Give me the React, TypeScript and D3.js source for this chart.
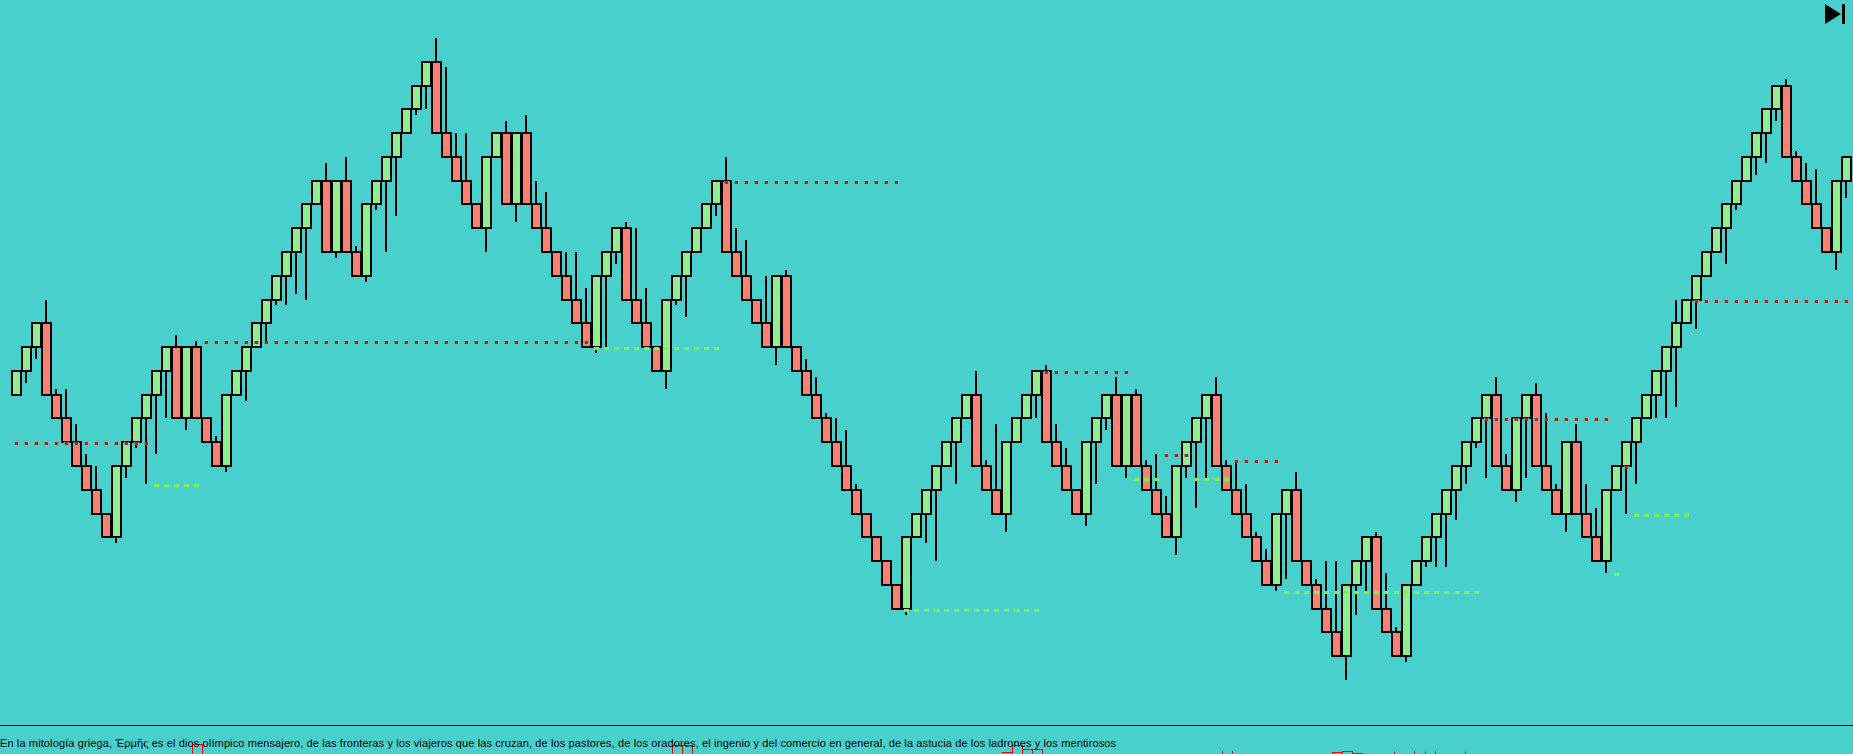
import React from "react";
import * as d3 from "d3";

const WIDTH = 1853;
const HEIGHT = 754;
const BRICK = 23.775;

// Renko-style bars: open and close in brick counts
const opens = [11,12,13,14,11,10,9,8,7,6,5,8,9,10,11,12,13,10,13,10,9,8,11,12,13,14,15,16,17,18,19,20,17,20,17,16,19,20,21,22,23,24,25,22,21,20,19,18,21,22,19,22,19,18,17,16,15,14,13,16,17,18,15,14,13,12,15,16,17,18,19,20,17,16,15,14,13,16,13,12,11,10,9,8,7,6,5,4,3,2,5,6,7,8,9,10,11,8,7,6,9,10,11,12,9,8,7,6,9,10,11,8,11,8,7,6,5,8,9,10,11,8,7,6,5,4,3,6,7,4,3,2,1,0,3,4,5,2,1,0,3,4,5,6,7,8,9,10,11,8,7,10,11,8,7,6,9,6,5,4,7,8,9,10,11,12,13,14,15,16,17,18,19,20,21,22,23,24,21,20,19,18,17,20];
const closes = [12,13,14,11,10,9,8,7,6,5,8,9,10,11,12,13,10,13,10,9,8,11,12,13,14,15,16,17,18,19,20,17,20,17,16,19,20,21,22,23,24,25,22,21,20,19,18,21,22,19,22,19,18,17,16,15,14,13,16,17,18,15,14,13,12,15,16,17,18,19,20,17,16,15,14,13,16,13,12,11,10,9,8,7,6,5,4,3,2,5,6,7,8,9,10,11,8,7,6,9,10,11,12,9,8,7,6,9,10,11,8,11,8,7,6,5,8,9,10,11,8,7,6,5,4,3,6,7,4,3,2,1,0,3,4,5,2,1,0,3,4,5,6,7,8,9,10,11,8,7,10,11,8,7,6,9,6,5,4,7,8,9,10,11,12,13,14,15,16,17,18,19,20,21,22,23,24,21,20,19,18,17,20,21];

// [bar index, price]
const upperWicks = [[3,357],[4,268],[5,268],[6,233],[7,203],[8,191],[16,322],[18,316],[20,221],[31,494],[33,500],[34,411],[42,619],[43,590],[44,524],[45,524],[49,536],[51,542],[52,476],[53,465],[55,405],[56,405],[57,369],[61,435],[62,429],[63,369],[71,500],[72,429],[73,417],[75,381],[77,387],[79,298],[80,280],[81,244],[82,239],[83,227],[84,173],[96,286],[97,197],[98,233],[103,292],[104,233],[105,209],[110,280],[112,268],[113,197],[114,203],[115,161],[120,280],[121,197],[122,195],[123,173],[124,125],[125,108],[128,185],[130,78],[131,96],[132,96],[136,125],[137,84],[138,30],[148,280],[149,203],[152,274],[153,244],[154,173],[156,233],[157,173],[158,149],[166,357],[177,578],[178,506],[179,494],[180,488]];
const lowerWicks = [[1,274],[2,298],[10,114],[11,179],[12,209],[13,173],[14,203],[15,239],[17,227],[21,185],[23,256],[25,316],[26,352],[27,352],[28,363],[29,357],[32,399],[35,375],[36,447],[37,405],[38,441],[40,542],[41,548],[47,405],[50,435],[58,304],[59,310],[60,393],[65,268],[66,352],[67,340],[70,441],[76,292],[89,42],[91,114],[92,96],[94,173],[99,125],[102,239],[107,131],[108,173],[109,227],[111,179],[116,102],[117,179],[118,149],[119,179],[126,66],[127,78],[133,-23],[134,42],[135,66],[139,-5],[141,90],[142,90],[143,90],[144,137],[145,173],[146,209],[147,179],[150,155],[151,179],[155,125],[159,84],[161,143],[162,173],[164,239],[165,239],[166,250],[168,328],[171,393],[172,447],[174,482],[175,494],[176,536],[182,387],[183,459]];

// [price, first bar, last bar]
const resistanceLevels = [[214,0,13],[315,19,57],[475,71,88],[285,103,111],[202,115,117],[196,122,126],[238,147,159],[356,168,183],[190,161,161]];
const supportLevels = [[172,14,18],[309,58,70],[47,89,102],[178,112,114],[178,118,121],[65,127,146],[83,160,160],[142,162,167]];

// Lower panel, clipped by the window: [bar index, value]
const panelBoxes = [[18,10],[66,9],[67,9],[99,2],[100,9],[101,5],[102,5],[132,2],[133,3],[134,1]];
const panelTicks = [120.6,121.6,137.8,139.8,140.9,141.85,144.9];
const panelTickValue = 3;

const caption = "En la mitología griega, Έρμῆς es el dios olímpico mensajero, de las fronteras y los viajeros que las cruzan, de los pastores, de los oradores, el ingenio y del comercio en general, de la astucia de los ladrones y los mentirosos";

const x = d3.scaleLinear().domain([0, 183]).range([16, 1846]);
const y = d3.scaleLinear().domain([0, 25 * BRICK]).range([656.675, 62.3]);
const panelY = d3.scaleLinear().domain([0, 10]).range([754, 744]);

const bodyY = (brick: number) => Math.floor(y(brick * BRICK));
const wickY = (price: number) => Math.round(y(price));

function Dots({ levels, core, left, right }: { levels: number[][]; core: string; left: string; right: string }) {
  return (
    <g shapeRendering="crispEdges">
      {levels.flatMap(([price, a, b]) =>
        d3.range(a, b + 1).map((i) => {
          const cx = x(i);
          const cy = wickY(price);
          return (
            <g key={`${price}-${i}`}>
              <rect x={cx - 2} y={cy - 1} width={1} height={3} fill={left} />
              <rect x={cx + 2} y={cy - 1} width={1} height={3} fill={right} />
              <rect x={cx - 1} y={cy - 1} width={3} height={3} fill={core} />
            </g>
          );
        })
      )}
    </g>
  );
}

export default function App() {
  return (
    <>
      <style>{`html,body{margin:0;padding:0;overflow:hidden}`}</style>
      <svg width={WIDTH} height={HEIGHT} style={{ display: "block" }}>
        <rect width={WIDTH} height={HEIGHT} fill="#48D1CC" />

        <g shapeRendering="crispEdges" stroke="#000" strokeWidth={2}>
          {upperWicks.map(([i, p]) => (
            <line key={`u${i}`} x1={x(i)} x2={x(i)} y1={wickY(p)} y2={bodyY(Math.max(opens[i], closes[i]))} />
          ))}
          {lowerWicks.map(([i, p]) => (
            <line key={`l${i}`} x1={x(i)} x2={x(i)} y1={bodyY(Math.min(opens[i], closes[i]))} y2={wickY(p)} />
          ))}
          {opens.map((o, i) => {
            const c = closes[i];
            const top = bodyY(Math.max(o, c));
            const bottom = bodyY(Math.min(o, c));
            return (
              <rect
                key={i}
                x={x(i) - 4}
                y={top}
                width={9}
                height={bottom - top}
                fill={c > o ? "#90EE90" : "#FA8072"}
              />
            );
          })}
        </g>

        <Dots levels={resistanceLevels} core="#B22222" left="#5FA98A" right="#8FB0B2" />
        <Dots levels={supportLevels} core="#7FFF00" left="#6FE58E" right="#8FEA9A" />

        <line x1={0} x2={WIDTH} y1={725.5} y2={725.5} stroke="#000" strokeWidth={1} shapeRendering="crispEdges" />

        <g shapeRendering="crispEdges" fill="none" stroke="#FF0000" strokeWidth={1}>
          {panelBoxes.map(([i, v]) => (
            <rect key={i} x={x(i) - 3.5} y={Math.round(panelY(v)) + 0.5} width={10} height={30} />
          ))}
          {panelTicks.map((t) => (
            <line key={t} x1={Math.round(x(t)) + 0.5} x2={Math.round(x(t)) + 0.5} y1={panelY(panelTickValue)} y2={HEIGHT} />
          ))}
        </g>

        <text
          x={0}
          y={747}
          fontFamily="'Liberation Sans', Arial, sans-serif"
          fontSize={11}
          fill="#000"
          textLength={1116}
          lengthAdjust="spacing"
        >
          {caption}
        </text>

        <polygon points="1825,4 1841,14 1825,24" fill="#000" />
        <rect x={1842} y={4} width={3} height={20} fill="#000" shapeRendering="crispEdges" />
      </svg>
    </>
  );
}
